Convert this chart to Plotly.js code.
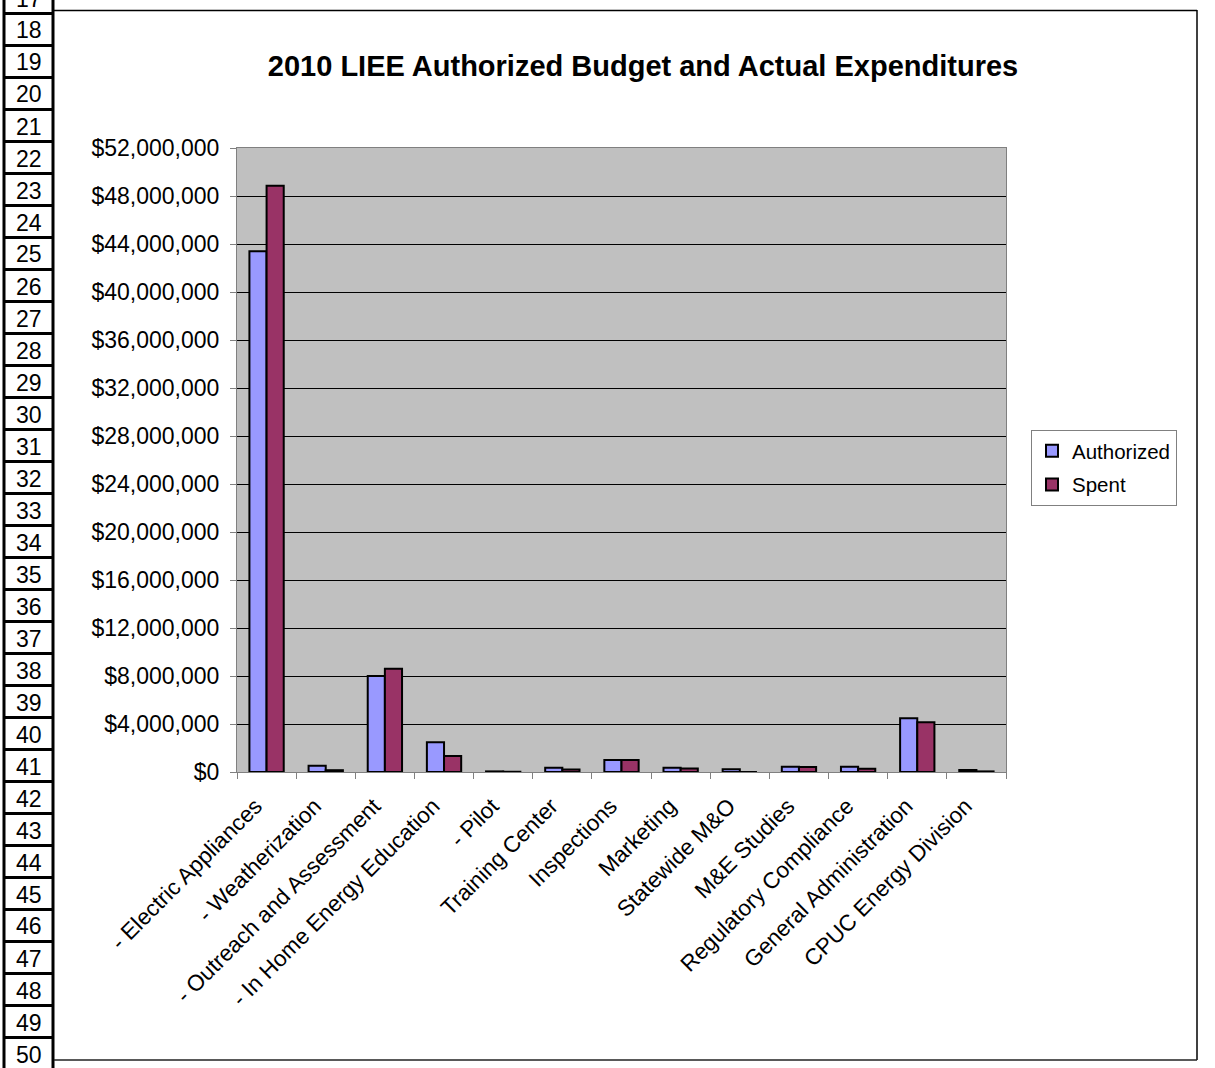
<!DOCTYPE html>
<html>
<head>
<meta charset="utf-8">
<script src="https://cdn.plot.ly/plotly-3.0.1.min.js"></script>
<style>
html,body{margin:0;padding:0;background:#fff;}
#chart{width:1215px;height:1068px;}
</style>
</head>
<body>
<div id="chart"></div>
<script>
// ---- Data ----
const categories = [
  "- Electric Appliances",
  "- Weatherization",
  "- Outreach and Assessment",
  "- In Home Energy Education",
  "- Pilot",
  "Training Center",
  "Inspections",
  "Marketing",
  "Statewide M&O",
  "M&E Studies",
  "Regulatory Compliance",
  "General Administration",
  "CPUC Energy Division"
];
const authorized = [43400000, 520000, 8000000, 2470000, 50000, 360000, 1000000, 360000, 220000, 440000, 440000, 4470000, 170000];
const spent      = [48850000, 150000, 8600000, 1330000, 20000, 200000, 1000000, 300000, 0, 420000, 280000, 4140000, 50000];
const seriesNames = ["Authorized", "Spent"];
const rowNumbers = [17,18,19,20,21,22,23,24,25,26,27,28,29,30,31,32,33,34,35,36,37,38,39,40,41,42,43,44,45,46,47,48,49,50];

// ---- Layout geometry (pixels) ----
const W = 1215, H = 1068;
const PX0 = 237, PX1 = 1006, PY0 = 148, PY1 = 772;
const px = x => (x - PX0) / (PX1 - PX0);
const py = y => (PY1 - y) / (PY1 - PY0);
const FONT = "Liberation Sans, Arial, sans-serif";

const shapes = [];
const annotations = [];
// spreadsheet row-number column
const rowTop = 13.5, rowH = 32;
rowNumbers.forEach((n, i) => {
  const yb = rowTop + rowH * (i - 1);
  shapes.push({type: "line", xref: "paper", yref: "paper",
    x0: px(3), x1: px(54), y0: py(yb), y1: py(yb),
    line: {color: "#000", width: 3}});
  annotations.push({xref: "paper", yref: "paper", x: px(29), y: py(yb + rowH / 2 + 1),
    xanchor: "center", yanchor: "middle", showarrow: false, text: String(n),
    font: {family: FONT, size: 23, color: "#000"}});
});
shapes.push({type: "line", xref: "paper", yref: "paper", x0: px(4), x1: px(4), y0: py(0), y1: py(H), line: {color: "#000", width: 3}});
shapes.push({type: "line", xref: "paper", yref: "paper", x0: px(53), x1: px(53), y0: py(0), y1: py(H), line: {color: "#000", width: 3}});
// chart outer border
shapes.push({type: "line", xref: "paper", yref: "paper", x0: px(54), x1: px(1197), y0: py(10.5), y1: py(10.5), line: {color: "#000", width: 1.5}});
shapes.push({type: "line", xref: "paper", yref: "paper", x0: px(1197), x1: px(1197), y0: py(10), y1: py(1060), line: {color: "#000", width: 1.5}});
shapes.push({type: "line", xref: "paper", yref: "paper", x0: px(54), x1: px(1197), y0: py(1060), y1: py(1060), line: {color: "#222", width: 1.5}});

const traces = [
  {type: "bar", name: seriesNames[0], x: categories, y: authorized, legendgroup: "a",
   marker: {color: "#9999FF", line: {color: "#000", width: 2}}},
  {type: "bar", name: seriesNames[1], x: categories, y: spent, legendgroup: "s",
   marker: {color: "#993366", line: {color: "#000", width: 2}}}
];

const layout = {
  width: W, height: H,
  margin: {l: PX0, r: W - PX1, t: PY0, b: H - PY1, pad: 0},
  paper_bgcolor: "#fff",
  plot_bgcolor: "#C0C0C0",
  font: {family: FONT, color: "#000"},
  title: {text: "<b>2010 LIEE Authorized Budget and Actual Expenditures</b>",
    xref: "container", yref: "container", x: 643 / W, y: 1 - 66 / H,
    xanchor: "center", yanchor: "middle",
    font: {family: FONT, size: 29, color: "#000"}},
  barmode: "group",
  bargap: 0.42,
  bargroupgap: 0,
  showlegend: true,
  legend: {x: px(1031), y: py(430), xanchor: "left", yanchor: "top",
    bgcolor: "#fff", bordercolor: "#808080", borderwidth: 1,
    font: {family: FONT, size: 20.5, color: "#000"},
    itemwidth: 30, tracegroupgap: 4},
  xaxis: {type: "category", tickson: "boundaries", ticks: "outside", ticklen: 6,
    tickcolor: "#808080", tickwidth: 1, showgrid: false,
    showline: true, linecolor: "#808080", linewidth: 1, mirror: true,
    tickangle: -45, tickfont: {family: FONT, size: 22.5, color: "#000"},
    ticklabelstandoff: 11, ticklabelshift: -11,
    automargin: false},
  yaxis: {range: [0, 52000000], dtick: 4000000, tick0: 0,
    tickprefix: "$", tickformat: ",.0f", separatethousands: true,
    ticks: "outside", ticklen: 6, tickcolor: "#808080", tickwidth: 1,
    showgrid: true, gridcolor: "#000", gridwidth: 1,
    showline: true, linecolor: "#808080", linewidth: 1, mirror: true,
    zeroline: false,
    ticklabelstandoff: 6,
    tickfont: {family: FONT, size: 23, color: "#000"},
    automargin: false},
  shapes: shapes,
  annotations: annotations
};

Plotly.newPlot("chart", traces, layout, {displayModeBar: false, staticPlot: true});
</script>
</body>
</html>
